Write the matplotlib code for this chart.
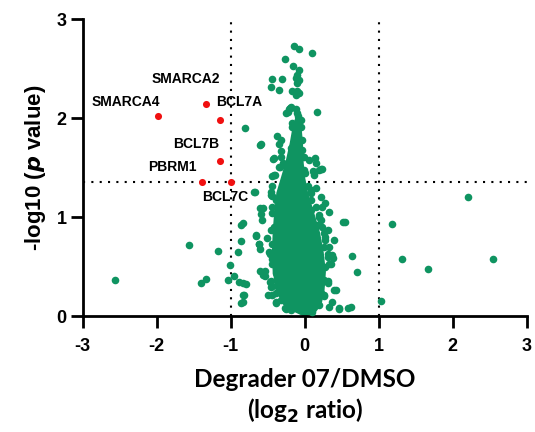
import matplotlib
matplotlib.use('Agg')
import matplotlib.pyplot as plt

GREEN = '#0f9461'
RED = '#f01010'

# dense core of the volcano (visible outline)
core_y     = [0.00, 0.05, 0.12, 0.25, 0.45, 0.65, 0.85, 1.05, 1.25, 1.40, 1.55, 1.75, 1.92, 2.02]
core_left  = [-0.02, -0.16, -0.30, -0.39, -0.44, -0.45, -0.44, -0.42, -0.39, -0.33, -0.27, -0.21, -0.17, -0.13]
core_right = [0.02, 0.15, 0.22, 0.26, 0.28, 0.25, 0.20, 0.12, 0.04, 0.00, -0.02, -0.03, -0.05, -0.08]

# individual proteins outside / on the edge of the core
green_x = [-2.57, -1.57, -1.40, -1.34, -1.17, -1.01, -1.03, -0.95, -0.89, -0.80,
           -0.86, -0.83, -0.90, -0.86, -0.86, -0.81, -0.60, -0.67, -0.61, -0.59,
           -0.58, -0.66, -0.62, -0.60, -0.51, -0.60, -0.54, -0.47, -0.45, -0.50,
           -0.39, -0.25, -0.44, -0.31, -0.45, -0.35, -0.26, -0.14, -0.08, 0.10,
           -0.16, -0.08, -0.10, -0.12, -0.08, -0.10, -0.17, -0.10, -0.12, -0.08,
           -0.19, -0.12, 0.17, -0.21, -0.25, -0.10, -0.09, -0.05, -0.17, -0.59,
           -0.37, -0.32, -0.32, -0.43, -0.30, -0.34, -0.41, 0.06, 0.14, 0.15,
           0.11, 0.22, 0.13, -0.69, -0.46, -0.44, -0.44, -0.57, -0.84, -0.66,
           -0.62, -0.48, -0.44, -0.53, -0.57, -0.46, -0.44, -0.84, -0.82, -0.84,
           -0.44, -0.39, -0.26, -0.19, 0.13, 0.19, 0.08, 0.15, 0.08, 0.22,
           0.28, 0.24, 0.08, 0.19, 0.33, 0.22, 0.17, 0.55, 0.31, 0.28,
           0.40, 0.26, 0.31, 0.37, 0.33, 0.22, 0.31, 0.42, 0.26, 0.37,
           0.33, 0.46, 0.19, 0.58, 0.52, 0.64, 0.70, 0.46, 0.62, 0.38,
           0.40, 1.18, 1.31, 1.66, 2.21, 2.55, 1.03,
           -0.44, -0.39, -0.44, -0.46, -0.44, -0.41, -0.39, -0.37, -0.32,
           0.24, 0.28, 0.31, 0.28, 0.26, 0.22, 0.15,
           -0.03, -0.01, 0.01, -0.23, -0.20, -0.41, 0.23,
           -0.35, -0.32, -0.35, -0.40, -0.46, -0.44, -0.41, -0.47, -0.44, -0.39,
           0.04, 0.08, 0.15, 0.19, 0.26, 0.33, 0.35, 0.31, 0.26, 0.10,
           -0.17, -0.05, -0.19, -0.03, -0.21, -0.01]
green_y = [0.36, 0.72, 0.33, 0.37, 0.66, 0.52, 0.36, 0.40, 0.34, 0.32,
           0.13, 0.21, 0.65, 0.76, 0.92, 1.90, 1.73, 1.25, 1.09, 1.03,
           0.97, 0.81, 0.73, 0.68, 0.79, 0.45, 0.40, 0.34, 0.29, 0.21,
           0.13, 0.07, 2.39, 2.39, 2.31, 2.28, 2.60, 2.73, 2.70, 2.66,
           2.53, 2.48, 2.43, 2.40, 2.38, 2.35, 2.27, 2.27, 2.23, 2.25,
           2.11, 2.09, 2.06, 2.09, 2.05, 2.05, 2.02, 1.98, 1.95, 1.74,
           1.82, 1.78, 1.67, 1.59, 1.55, 1.51, 1.42, 1.58, 1.60, 1.55,
           1.46, 1.48, 1.42, 1.25, 1.25, 1.21, 1.41, 1.09, 0.94, 0.82,
           0.73, 0.65, 0.58, 0.45, 0.41, 0.35, 0.30, 0.33, 0.21, 0.14,
           0.21, 0.14, 0.08, 0.06, 1.44, 1.47, 1.27, 1.29, 1.17, 1.20,
           1.14, 1.10, 1.07, 1.02, 1.05, 0.97, 0.92, 0.95, 0.87, 0.80,
           0.77, 0.70, 0.60, 0.62, 0.53, 0.33, 0.35, 0.26, 0.21, 0.14,
           0.09, 0.08, 0.11, 0.08, 0.95, 0.61, 0.44, 0.07, 0.09, 0.59,
           0.26, 0.93, 0.58, 0.47, 1.20, 0.58, 0.15,
           1.31, 1.17, 1.04, 0.87, 0.73, 0.60, 0.43, 0.30, 0.16,
           0.90, 0.77, 0.63, 0.50, 0.36, 0.23, 0.13,
           1.78, 1.61, 1.44, 2.06, 2.10, 1.60, 1.48,
           1.74, 1.61, 1.51, 1.42, 1.22, 1.10, 0.90, 0.63, 0.53, 0.23,
           1.31, 1.24, 1.10, 1.00, 0.84, 0.70, 0.53, 0.33, 0.20, 0.04,
           1.91, 1.91, 1.70, 1.68, 1.51, 1.47]

# SWI/SNF hits
red_names = ['SMARCA4', 'SMARCA2', 'BCL7A', 'BCL7B', 'PBRM1', 'BCL7C']
red_x = [-1.98, -1.33, -1.14, -1.15, -1.39, -0.99]
red_y = [2.02, 2.14, 1.98, 1.57, 1.35, 1.35]
label_x = [-2.42, -1.61, -0.88, -1.47, -1.79, -1.07]
label_y = [2.16, 2.39, 2.16, 1.74, 1.51, 1.20]

x_ticks = [-3, -2, -1, 0, 1, 2, 3]
y_ticks = [0, 1, 2, 3]
fc_cut = [-1, 1]
p_cut = 1.35

fig = plt.figure(figsize=(5.35, 4.32), dpi=100)
ax = fig.add_axes([0.1546, 0.2685, 0.8299, 0.6875])

# cut-off lines
for xc in fc_cut:
    ax.plot([xc, xc], [0, 3], color='black', lw=1.5, ls=(0, (1, 3)), zorder=1)
ax.plot([-3, 3], [p_cut, p_cut], color='black', lw=1.5, ls=(0, (1, 3)), zorder=1)

ax.fill_betweenx(core_y, core_left, core_right, color=GREEN, lw=0, zorder=2)
ax.scatter(green_x, green_y, s=30, color=GREEN, lw=0, zorder=3)
ax.scatter(red_x, red_y, s=26, color=RED, lw=0, zorder=4)

for name, lx, ly in zip(red_names, label_x, label_y):
    ax.text(lx, ly, name, ha='center', va='center', fontsize=10,
            fontweight='bold', family='Liberation Sans', zorder=5)

ax.set_xlim(-3, 3)
ax.set_ylim(0, 3)
ax.set_xticks(x_ticks)
ax.set_yticks(y_ticks)
ax.set_xticklabels([str(t) for t in x_ticks], fontsize=13, fontweight='bold', family='Liberation Sans')
ax.set_yticklabels([str(t) for t in y_ticks], fontsize=13, fontweight='bold', family='Liberation Sans')
ax.tick_params(width=2, length=8.5, direction='out')
ax.tick_params(axis='x', pad=7)
ax.tick_params(axis='y', pad=3)
for s in ['top', 'right']:
    ax.spines[s].set_visible(False)
for s in ['left', 'bottom']:
    ax.spines[s].set_linewidth(2)

ax.set_xlabel('Degrader 07/DMSO\n(log$_\\mathbf{2}$ ratio)', fontsize=17.5, fontweight='bold',
              family='Lato', labelpad=10, linespacing=1.25)
ax.set_ylabel('-log10 ($\\boldsymbol{p}$ value)', fontsize=16, fontweight='bold',
              family='Liberation Sans', labelpad=6)

fig.savefig('out.png', dpi=100)
